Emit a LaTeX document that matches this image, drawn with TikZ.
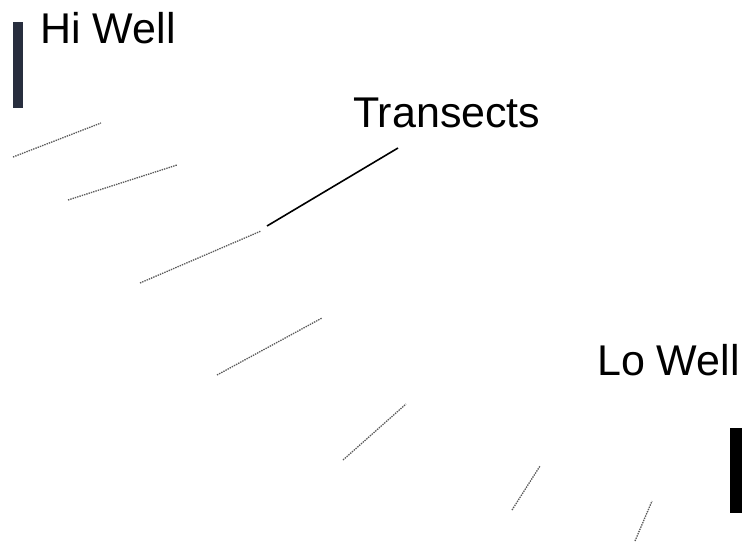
\documentclass[tikz,border=0pt]{standalone}
\usepackage{fontspec}
\setmainfont{Liberation Sans}
\begin{document}
\begin{tikzpicture}[x=1pt,y=-1pt,
  lbl/.style={anchor=base west,inner sep=0pt,font=\fontsize{43}{50}\selectfont},
  transect/.style={draw=black!65,line width=1.3pt,dash pattern=on 1.4pt off 1.0pt},
  solidtransect/.style={draw=black,line width=1.6pt},
  well/.style={draw=none,inner sep=0pt,anchor=north west}]
\useasboundingbox (0,0) rectangle (743,546);
% wells
\node[well,fill={rgb,255:red,40;green,46;blue,62},minimum width=10pt,minimum height=86pt] (hiwell) at (13,22) {};
\node[well,fill=black,minimum width=12pt,minimum height=85pt] (lowell) at (730,428) {};
% labels
\node[lbl] (hilabel) at (40,43) {Hi Well};
\node[lbl] (trlabel) at (353,127) {Transects};
\node[lbl] (lolabel) at (597,375) {Lo Well};
% transect end points
\coordinate (t1a) at (13,157);  \coordinate (t1b) at (101,123);
\coordinate (t2a) at (68,200);  \coordinate (t2b) at (177,165);
\coordinate (t3a) at (140,283); \coordinate (t3b) at (261,231);
\coordinate (t3c) at (267,226); \coordinate (t3d) at (398,148);
\coordinate (t4a) at (217,375); \coordinate (t4b) at (322,318);
\coordinate (t5a) at (343,460); \coordinate (t5b) at (406,404);
\coordinate (t6a) at (512,510); \coordinate (t6b) at (540,466);
\coordinate (t7a) at (635,541); \coordinate (t7b) at (652,501);
\draw[transect] (t1a) -- (t1b);
\draw[transect] (t2a) -- (t2b);
\draw[transect] (t3a) -- (t3b);
\draw[solidtransect] (t3c) -- (t3d);
\draw[transect] (t4a) -- (t4b);
\draw[transect] (t5a) -- (t5b);
\draw[transect] (t6a) -- (t6b);
\draw[transect] (t7a) -- (t7b);
\end{tikzpicture}
\end{document}
